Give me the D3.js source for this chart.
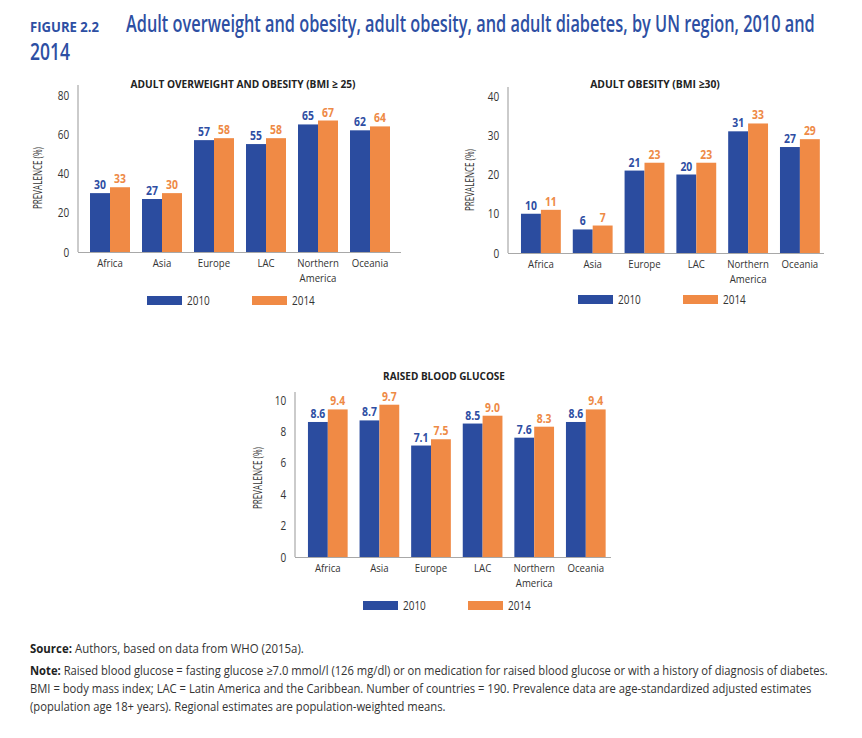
<!DOCTYPE html>
<html><head><meta charset="utf-8">
<script src="https://cdn.jsdelivr.net/npm/d3@7"></script>
<style>
body{margin:0;background:#fff;}
text{font-family:"Open Sans",sans-serif;}
</style></head>
<body><svg id="c" width="862" height="738"></svg>
<script>
const regions = ["Africa","Asia","Europe","LAC","Northern America","Oceania"];
const years = ["2010","2014"];
const overweight2010 = [30,27,57,55,65,62];
const overweight2014 = [33,30,58,58,67,64];
const obesity2010 = [10,6,21,20,31,27];
const obesity2014 = [11,7,23,23,33,29];
const glucose2010 = [8.6,8.7,7.1,8.5,7.6,8.6];
const glucose2014 = [9.4,9.7,7.5,9.0,8.3,9.4];
const ticksOW = [0,20,40,60,80];
const ticksOB = [0,10,20,30,40];
const ticksGL = [0,2,4,6,8,10];

const BLUE = "#2b4c9f", ORANGE = "#f08a45", TXT = "#333", AX = "#a8a8a8", TITLEBLUE = "#2d4fa3";
const CX = 0.8;
const svg = d3.select("#c");

function fitText(t, x, y, w){
  t.attr("x",0).attr("y",0);
  const n = t.node().getComputedTextLength();
  t.attr("transform",`translate(${x},${y}) scale(${w/n},1)`);
  return t;
}
function condText(parent, x, y, str, s){
  return parent.append("text").attr("transform",`translate(${x},${y}) scale(${s||CX},1)`).text(str);
}

fitText(svg.append("text").attr("fill",TITLEBLUE).attr("font-size",15).attr("font-weight","bold").text("FIGURE 2.2"),30,32,69);
fitText(svg.append("text").attr("fill",TITLEBLUE).attr("font-size",24).attr("font-weight",600)
  .text("Adult overweight and obesity, adult obesity, and adult diabetes, by UN region, 2010 and"),126,32,689);
fitText(svg.append("text").attr("fill",TITLEBLUE).attr("font-size",24).attr("font-weight",600).text("2014"),30,60,40);

function chart(cfg){
  const g = svg.append("g");
  const y = d3.scaleLinear().domain([0,cfg.max]).range([cfg.y0,cfg.yMax]);
  const x = d3.scaleBand().domain(regions).range([cfg.bandStart, cfg.bandStart+6*cfg.step])
    .paddingInner(0.2308).paddingOuter(0.1154);
  const xs = d3.scaleBand().domain(years).range([0,x.bandwidth()]);
  const color = d3.scaleOrdinal().domain(years).range([BLUE,ORANGE]);
  const data = regions.map((r,i)=>({r, vals:[{k:"2010",v:cfg.a[i]},{k:"2014",v:cfg.b[i]}]}));

  const tt = g.append("text").attr("text-anchor","middle")
    .attr("font-size",11).attr("font-weight","bold").attr("fill","#222").text(cfg.title);
  fitText(tt, cfg.titleX, cfg.titleY, cfg.titleW);

  const ya = d3.axisLeft(y).tickValues(cfg.ticks).tickSize(0).tickPadding(11);
  const ag = g.append("g").attr("transform",`translate(${cfg.axisX},0)`).call(ya);
  ag.select(".domain").remove();
  ag.selectAll("text").attr("font-size",12.5).attr("fill",TXT)
    .style("font-family",'"Open Sans",sans-serif').attr("transform",`scale(${CX},1)`);

  const yl = g.append("text").attr("text-anchor","middle").attr("font-size",12).attr("fill",TXT).text("PREVALENCE (%)");
  yl.attr("x",0).attr("y",0);
  const yn = yl.node().getComputedTextLength();
  yl.attr("transform",`translate(${cfg.labX},${cfg.labY}) rotate(-90) scale(${62/yn},1)`);

  const grp = g.selectAll(".grp").data(data).join("g").attr("transform",d=>`translate(${x(d.r)},0)`);
  grp.selectAll("rect").data(d=>d.vals).join("rect")
    .attr("x",d=>xs(d.k)).attr("width",xs.bandwidth())
    .attr("y",d=>y(d.v)).attr("height",d=>y(0)-y(d.v)).attr("fill",d=>color(d.k));
  grp.selectAll("text.v").data(d=>d.vals).join("text").attr("class","v")
    .attr("transform",d=>`translate(${xs(d.k)+xs.bandwidth()/2},${y(d.v)-4}) scale(${CX},1)`)
    .attr("text-anchor","middle").attr("font-size",13).attr("font-weight","bold")
    .attr("fill",d=>d.k==="2010"?"#2e4ea3":"#ee8a46")
    .text(d=>cfg.fmt(d.v));

  g.append("line").attr("x1",cfg.axisX).attr("x2",cfg.axisX).attr("y1",cfg.axisTop).attr("y2",cfg.y0)
    .attr("stroke",AX).attr("stroke-width",1.2);
  g.append("line").attr("x1",cfg.axisX).attr("x2",cfg.axisEnd).attr("y1",cfg.y0+0.5).attr("y2",cfg.y0+0.5)
    .attr("stroke",AX).attr("stroke-width",1.2);

  regions.forEach(d=>{
    const cx = x(d)+x.bandwidth()/2;
    d.split(" ").forEach((p,i)=>{
      condText(g, cx, cfg.y0+15+i*15, p, 0.84).attr("text-anchor","middle").attr("font-size",11.5).attr("fill",TXT);
    });
  });

  years.forEach((yr,i)=>{
    const lx = cfg.legX + i*105;
    g.append("rect").attr("x",lx).attr("y",cfg.legY).attr("width",35).attr("height",9).attr("fill",color(yr));
    condText(g, lx+40, cfg.legY+9, yr).attr("font-size",12.5).attr("fill",TXT);
  });
}

chart({a:overweight2010,b:overweight2014,max:80,ticks:ticksOW,y0:252,yMax:95,axisTop:85,axisX:78,axisEnd:401,
  bandStart:84,step:52,title:"ADULT OVERWEIGHT AND OBESITY (BMI \u2265 25)",titleX:243,titleY:88,titleW:225,
  labX:42,labY:178,legX:147,legY:296,fmt:d3.format("d")});
chart({a:obesity2010,b:obesity2014,max:40,ticks:ticksOB,y0:253,yMax:96,axisTop:87,axisX:508,axisEnd:824,
  bandStart:515,step:51.8,title:"ADULT OBESITY (BMI \u226530)",titleX:655,titleY:88,titleW:130,
  labX:474,labY:180,legX:578,legY:295,fmt:d3.format("d")});
chart({a:glucose2010,b:glucose2014,max:10,ticks:ticksGL,y0:557,yMax:400,axisTop:392,axisX:295,axisEnd:611,
  bandStart:302,step:51.6,title:"RAISED BLOOD GLUCOSE",titleX:444,titleY:380,titleW:122,
  labX:262,labY:478,legX:363,legY:601,fmt:d3.format(".1f")});

const foot = [
  {y:653, b:"Source:", t:" Authors, based on data from WHO (2015a).", w:274},
  {y:675, b:"Note:", t:" Raised blood glucose = fasting glucose \u22657.0 mmol/l (126 mg/dl) or on medication for raised blood glucose or with a history of diagnosis of diabetes.", w:799},
  {y:693, b:"", t:"BMI = body mass index; LAC = Latin America and the Caribbean. Number of countries = 190. Prevalence data are age-standardized adjusted estimates", w:782},
  {y:711, b:"", t:"(population age 18+ years). Regional estimates are population-weighted means.", w:416}
];
foot.forEach(f=>{
  const t = svg.append("text").attr("font-size",12.5).attr("fill",TXT);
  if(f.b) t.append("tspan").attr("font-weight","bold").attr("fill","#222").text(f.b);
  t.append("tspan").text(f.t);
  fitText(t, 30, f.y, f.w);
});
</script></body></html>
